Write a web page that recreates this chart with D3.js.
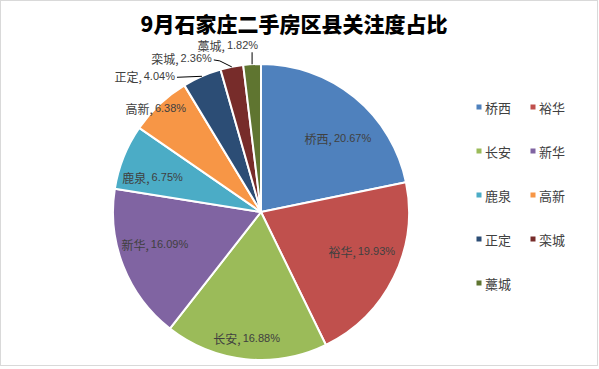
<!DOCTYPE html>
<html><head><meta charset="utf-8">
<script src="https://cdn.jsdelivr.net/npm/d3@7/dist/d3.min.js"></script>
<style>body{margin:0;background:#fff}svg{display:block}</style>
</head><body><svg id="c" width="599" height="369"></svg>
<script>
const titleText = "9月石家庄二手房区县关注度占比";
const categories = ["桥西","裕华","长安","新华","鹿泉","高新","正定","栾城","藁城"];
const values = [20.67,19.93,16.88,16.09,6.75,6.38,4.04,2.36,1.82];
const colors = ["#4F81BD","#C0504D","#9BBB59","#8064A2","#4BACC6","#F79646","#2C4D75","#772C2A","#5F7530"];

const svg = d3.select("#c");
const W = 599, H = 369;
svg.append("rect").attr("x",0.5).attr("y",0.5).attr("width",W-2).attr("height",H-4)
  .attr("fill","#fff").attr("stroke","#d9d9d9");

svg.append("text").attr("x",294).attr("y",32).attr("text-anchor","middle")
  .attr("font-family","'Noto Sans CJK SC',sans-serif").attr("font-weight","900")
  .attr("font-size",21).attr("fill","#000").text(titleText);

const cx = 261, cy = 212, R = 148;
const data = categories.map((c,i)=>({name:c,value:values[i],color:colors[i]}));
const pie = d3.pie().sort(null).value(d=>d.value);
const arcs = pie(data);
const arc = d3.arc().innerRadius(0).outerRadius(R);
const g = svg.append("g").attr("transform",`translate(${cx},${cy})`);
g.selectAll("path").data(arcs).join("path")
  .attr("d",arc).attr("fill",d=>d.data.color)
  .attr("stroke","#fff").attr("stroke-width",2).attr("stroke-linejoin","round");

const fmt = d => d.toFixed(2)+"%";
function addLabel(x,y,d,anchor){
  const t = g.append("text").attr("x",x).attr("y",y).attr("text-anchor",anchor)
    .attr("dominant-baseline","central").attr("fill","#404040");
  t.append("tspan").attr("font-family","'Noto Sans CJK SC',sans-serif").attr("font-size",12).text(d.data.name+",");
  t.append("tspan").attr("font-family","'Liberation Sans',sans-serif").attr("font-size",11).attr("dx",2).text(fmt(d.data.value));
}
const polar = (a,r)=>[Math.sin(a)*r, -Math.cos(a)*r];
// inside labels: [index, angle shift (deg), radius factor]
const inside = [[0,7,0.72],[1,-5,0.73],[2,0.5,0.86],[3,4.5,0.75],[4,-4,0.77]];
inside.forEach(([i,da,rf])=>{
  const d = arcs[i]; const m=(d.startAngle+d.endAngle)/2 + da*Math.PI/180;
  const [x,y]=polar(m,R*rf); addLabel(x,y,d,"middle");
});
const mid = d=>(d.startAngle+d.endAngle)/2;
// 高新: on outer edge
{ const d=arcs[5]; const [x,y]=polar(mid(d)-2*Math.PI/180,R); addLabel(x,y,d,"middle"); }
const lineStyle = sel=>sel.attr("fill","none").attr("stroke","#000").attr("stroke-width",1);
// 正定
{ const d=arcs[6]; const [x,y]=polar(mid(d),R);
  g.append("path").attr("d",`M${x},${y}L${x-25},${y+1}`).call(lineStyle);
  addLabel(x-27,y,d,"end"); }
// 栾城
{ const d=arcs[7]; const [x,y]=polar(mid(d),R);
  g.append("path").attr("d",`M${x},${y}L${x-12},${y-6}L${x-18},${y-7}`).call(lineStyle);
  addLabel(x-20,y-9,d,"end"); }
// 藁城
{ const d=arcs[8]; const [x,y]=polar(mid(d),R);
  g.append("path").attr("d",`M${x},${y}L${x},${y-12}`).call(lineStyle);
  addLabel(x+6,y-19,d,"end"); }

// legend
const leg = svg.append("g");
data.forEach((d,i)=>{
  const col=i%2, row=Math.floor(i/2);
  const x = 479 + col*54, y = 107 + row*44;
  leg.append("rect").attr("x",x-2.5).attr("y",y-2.5).attr("width",5).attr("height",5).attr("fill",d.color);
  leg.append("text").attr("x",x+6).attr("y",y).attr("dominant-baseline","central")
    .attr("font-family","'Noto Sans CJK SC',sans-serif").attr("font-size",13).attr("fill","#404040").text(d.name);
});
</script></body></html>
